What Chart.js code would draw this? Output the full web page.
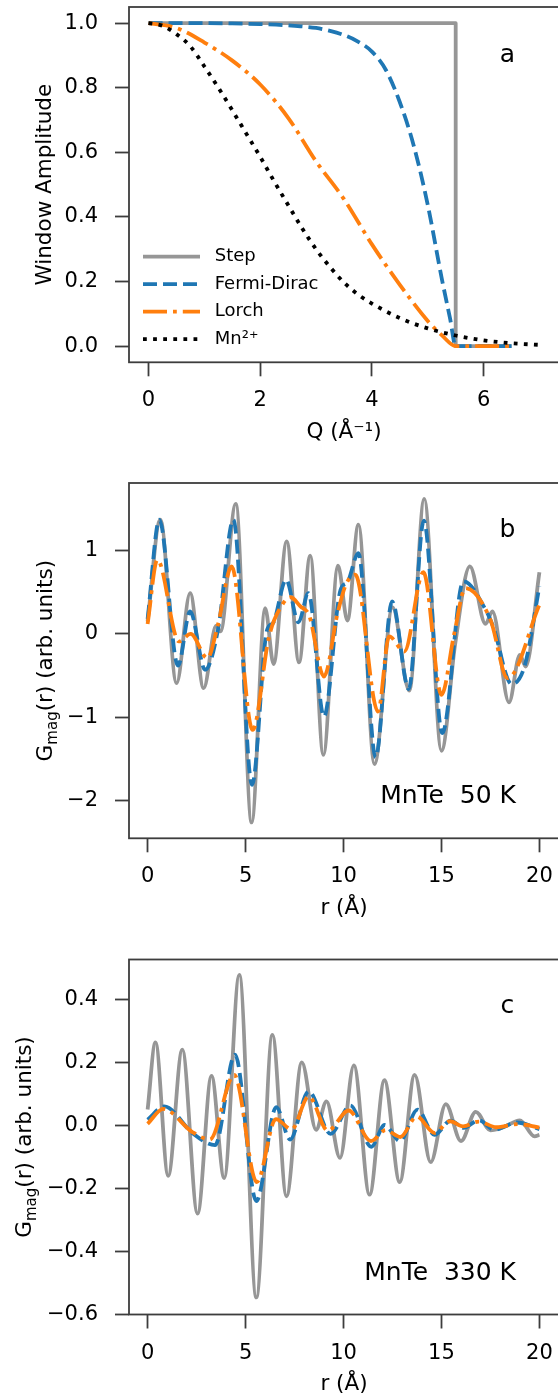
<!DOCTYPE html>
<html>
<head>
<meta charset="utf-8">
<script src="https://cdn.jsdelivr.net/npm/chart.js@4.4.1/dist/chart.umd.min.js"></script>
<style>
  html, body { margin: 0; padding: 0; background: #fff; }
  body { width: 558px; height: 1397px; overflow: hidden; position: relative; }
  canvas { position: absolute; left: 0; }
</style>
</head>
<body>
<canvas id="panelA" width="562" height="460" style="top:0px"></canvas>
<canvas id="panelB" width="562" height="475" style="top:455px"></canvas>
<canvas id="panelC" width="562" height="490" style="top:910px"></canvas>
<script>
// panel a : window functions
var stepQ = [0, 5.5, 5.5, 6.5];
var stepW = [1, 1, 0, 0];
var fermiQ = [0, 0.5, 1, 1.5, 2, 2.5, 3, 3.25, 3.5, 3.75, 4, 4.25, 4.5, 4.75, 5, 5.25, 5.4, 5.5, 6.5];
var fermiW = [1, 1, 1, 0.999, 0.997, 0.993, 0.985, 0.976, 0.963, 0.943, 0.912, 0.855, 0.755, 0.62, 0.437, 0.21, 0.085, 0, 0];
var lorchQ = [0, 0.5, 1, 1.5, 2, 2.5, 3, 3.5, 4, 4.5, 5, 5.25, 5.5, 6.5];
var lorchW = [1, 0.985, 0.94, 0.884, 0.81, 0.707, 0.572, 0.455, 0.315, 0.19, 0.078, 0.034, 0, 0];
var mnQ = [0, 0.25, 0.5, 0.75, 1, 1.25, 1.5, 1.75, 2, 2.25, 2.5, 2.75, 3, 3.25, 3.5, 3.75, 4, 4.5, 5, 5.5, 6, 6.5, 7];
var mnW = [1, 0.992, 0.966, 0.928, 0.866, 0.8, 0.73, 0.658, 0.586, 0.51, 0.437, 0.365, 0.3, 0.245, 0.197, 0.16, 0.132, 0.087, 0.055, 0.033, 0.018, 0.009, 0.004];

// panel b : MnTe 50 K
var bStepR = [0, 0.65, 1.48, 2.17, 2.86, 3.5, 3.72, 4.5, 5.31, 6.0, 6.43, 7.1, 7.73, 8.3, 8.97, 9.72, 10.2, 10.76, 11.58, 12.5, 13.36, 14.12, 15.0, 15.7, 16.45, 17.25, 17.6, 18.45, 19.0, 19.3, 20.0];
var bStepG = [0.15, 1.37, -0.59, 0.49, -0.65, 0.10, 0.03, 1.56, -2.26, 0.31, -0.36, 1.11, -0.34, 0.94, -1.45, 0.82, 0.16, 1.31, -1.56, 0.32, -0.68, 1.62, -1.40, -0.12, 0.81, 0.12, 0.27, -0.82, -0.25, -0.39, 0.74];
var bFermiR = [0, 0.6, 1.55, 2.17, 2.94, 3.6, 4.38, 5.33, 6.1, 6.4, 7.07, 7.7, 8.21, 9.0, 9.85, 10.2, 10.76, 11.64, 12.48, 13.33, 14.1, 15.04, 16.12, 17.3, 17.65, 18.58, 19.25, 20.0];
var bFermiG = [0.18, 1.37, -0.38, 0.27, -0.43, 0.06, 1.37, -1.81, 0.05, 0.13, 0.65, 0.14, 0.49, -0.99, 0.53, 0.62, 0.97, -1.48, 0.39, -0.66, 1.36, -1.19, 0.63, 0.27, 0.08, -0.6, -0.38, 0.57];
var bLorchR = [0, 0.5, 1.6, 2.2, 3.05, 3.6, 4.29, 5.36, 6.2, 6.9, 7.3, 7.8, 8.25, 9.0, 9.7, 10.1, 10.6, 11.76, 12.33, 13.1, 14.08, 15.0, 15.65, 16.22, 17.5, 18.38, 20.0];
var bLorchG = [0.12, 0.89, -0.09, 0.0, -0.29, 0.12, 0.81, -1.15, -0.03, 0.36, 0.44, 0.33, 0.22, -0.51, 0.25, 0.58, 0.71, -0.93, -0.03, -0.21, 0.74, -0.73, 0.0, 0.55, 0.17, -0.53, 0.35];

// panel c : MnTe 330 K
var cStepR = [0, 0.4, 1.05, 1.77, 2.55, 3.26, 3.91, 4.68, 5.55, 6.37, 7.09, 7.87, 8.6, 9.13, 9.82, 10.53, 11.33, 12.09, 12.87, 13.63, 14.45, 15.22, 16.0, 16.75, 17.5, 18.2, 19.0, 19.75, 20.0];
var cStepG = [0.05, 0.263, -0.16, 0.24, -0.28, 0.157, -0.167, 0.477, -0.546, 0.287, -0.225, 0.2, -0.014, 0.076, -0.103, 0.19, -0.22, 0.143, -0.18, 0.16, -0.117, 0.067, -0.05, 0.043, -0.016, -0.005, 0.016, -0.035, -0.03];
var cFermiR = [0, 0.85, 2.3, 3.44, 4.46, 5.55, 6.57, 7.27, 8.22, 9.34, 10.35, 11.42, 12.1, 12.88, 13.78, 14.64, 15.47, 16.14, 16.9, 17.7, 18.85, 20.0];
var cFermiG = [0.018, 0.06, -0.025, -0.063, 0.224, -0.24, 0.058, -0.045, 0.108, -0.027, 0.063, -0.068, 0.001, -0.05, 0.05, -0.03, 0.015, -0.008, 0.016, -0.014, 0.009, -0.012];
var cLorchR = [0, 0.8, 2.3, 3.18, 4.42, 5.57, 6.55, 7.35, 8.22, 9.2, 10.26, 11.4, 12.15, 12.9, 13.74, 14.64, 15.45, 16.1, 16.9, 17.8, 18.9, 20.0];
var cLorchG = [0.005, 0.052, -0.022, -0.045, 0.16, -0.18, 0.02, -0.013, 0.092, -0.017, 0.047, -0.05, -0.015, -0.037, 0.028, -0.024, 0.013, -0.003, 0.012, -0.006, 0.004, -0.007];

// ticks
var aXTicks = [0, 2, 4, 6];
var aYTicks = [0, 0.2, 0.4, 0.6, 0.8, 1.0];
var rTicks = [0, 5, 10, 15, 20];
var bYTicks = [-2, -1, 0, 1];
var cYTicks = [-0.6, -0.4, -0.2, 0, 0.2, 0.4];

var FONT = '"DejaVu Sans", sans-serif';
var SPINE = '#3d3d3d';
var LW = 3.8;

function minus(s) { return s.replace('-', '\u2212'); }
function fixed1(v) { return minus(v.toFixed(1)); }
function whole(v) { return minus(String(v)); }

function series(label, xs, ys, style) {
    var d = {
        label: label,
        data: xs.map(function (x, i) { return {x: x, y: ys[i]}; }),
        pointRadius: 0,
        borderWidth: LW,
        borderJoinStyle: 'round',
        fill: false,
        cubicInterpolationMode: 'monotone'
    };
    return Object.assign(d, style);
}
var stepStyle = {borderColor: '#969696', order: 4};
var fermiStyle = {borderColor: '#1f77b4', borderDash: [14, 6], order: 3};
var lorchStyle = {borderColor: '#ff7f0e', borderDash: [24, 6, 3.8, 6], order: 2};
var mnStyle = {borderColor: '#000000', borderDash: [3.8, 6.3], order: 1};

function gridOpts() {
    return {drawOnChartArea: false, drawTicks: true, tickLength: 14, tickWidth: 1.8, tickColor: SPINE};
}

function axisX(min, max, ticks, fmt, title) {
    return {
        type: 'linear', min: min, max: max,
        afterBuildTicks: function (s) { s.ticks = ticks.map(function (v) { return {value: v}; }); },
        afterFit: function (s) { s.height = 84; s.paddingLeft = 0; s.paddingRight = 0; },
        grid: gridOpts(),
        border: {display: false},
        ticks: {padding: 12, color: '#000', font: {family: FONT, size: 21}, maxRotation: 0, autoSkip: false, callback: fmt},
        title: {display: true, text: title, color: '#000', font: {family: FONT, size: 21.5}, padding: {top: 0, bottom: 1}}
    };
}

function axisY(min, max, ticks, fmt, title) {
    return {
        type: 'linear', min: min, max: max,
        afterBuildTicks: function (s) { s.ticks = ticks.map(function (v) { return {value: v}; }); },
        afterFit: function (s) { s.width = 129; s.paddingTop = 0; s.paddingBottom = 0; },
        grid: gridOpts(),
        border: {display: false},
        ticks: {padding: 17, color: '#000', font: {family: FONT, size: 21}, autoSkip: false, callback: fmt},
        title: title ? {display: true, text: title, color: '#000', font: {family: FONT, size: 21.5}, padding: {top: 33, bottom: 0}} : {display: false}
    };
}

// box round the plot area, drawn over the curves like matplotlib spines
var framePlugin = {
    id: 'frame',
    afterDatasetsDraw: function (chart) {
        var ctx = chart.ctx, a = chart.chartArea;
        ctx.save();
        ctx.strokeStyle = SPINE;
        ctx.lineWidth = 1.8;
        ctx.strokeRect(a.left, a.top, a.right - a.left, a.bottom - a.top);
        ctx.restore();
    }
};

// panel letters and sample labels, placed in axes fractions
function textPlugin(items) {
    return {
        id: 'panelText',
        afterDraw: function (chart) {
            var ctx = chart.ctx, a = chart.chartArea;
            ctx.save();
            ctx.fillStyle = '#000';
            ctx.textBaseline = 'alphabetic';
            items.forEach(function (t) {
                ctx.font = '25px ' + FONT;
                ctx.textAlign = t.align;
                ctx.fillText(t.text, a.left + t.fx * (a.right - a.left), a.bottom - t.fy * (a.bottom - a.top));
            });
            ctx.restore();
        }
    };
}

// y title with a real subscript: G_mag(r) (arb. units)
function gmagTitle(cx) {
    return {
        id: 'gmagTitle',
        afterDraw: function (chart) {
            var ctx = chart.ctx, a = chart.chartArea;
            var fs = 21.5;
            var big = fs + 'px ' + FONT, small = (fs * 0.7) + 'px ' + FONT;
            ctx.save();
            ctx.translate(cx, (a.top + a.bottom) / 2);
            ctx.rotate(-Math.PI / 2);
            ctx.fillStyle = '#000';
            ctx.textBaseline = 'alphabetic';
            ctx.textAlign = 'left';
            ctx.font = big;
            var w1 = ctx.measureText('G').width;
            var w3 = ctx.measureText('(r) (arb. units)').width;
            ctx.font = small;
            var w2 = ctx.measureText('mag').width;
            var x = -(w1 + w2 + w3) / 2;
            var base = 0.36 * fs;
            ctx.font = big; ctx.fillText('G', x, base); x += w1;
            ctx.font = small; ctx.fillText('mag', x, base + 0.24 * fs); x += w2;
            ctx.font = big; ctx.fillText('(r) (arb. units)', x, base);
            ctx.restore();
        }
    };
}

// move the legend to the lower left corner of the plot
var legendShift = {
    id: 'legendShift',
    afterLayout: function (chart) {
        var lg = chart.legend;
        lg.left += 4.5; lg.right += 4.5;
        lg.top += 2.4; lg.bottom += 2.4;
    }
};

function baseOptions(pad, scales, legend) {
    return {
        responsive: false,
        animation: false,
        events: [],
        layout: {padding: pad},
        plugins: {legend: legend || {display: false}, tooltip: {enabled: false}},
        scales: scales
    };
}

var chartA = new Chart(document.getElementById('panelA'), {
    type: 'line',
    data: {datasets: [
        series('Step', stepQ, stepW, Object.assign({cubicInterpolationMode: 'default', tension: 0}, stepStyle)),
        series('Fermi-Dirac', fermiQ, fermiW, fermiStyle),
        series('Lorch', lorchQ, lorchW, lorchStyle),
        series('Mn\u00B2\u207A', mnQ, mnW, mnStyle)
    ]},
    options: baseOptions({left: 0, right: 3, top: 7, bottom: 13.7}, {
        x: axisX(-0.35, 7.35, aXTicks, whole, 'Q (\u00C5\u207B\u00B9)'),
        y: axisY(-0.05, 1.05, aYTicks, fixed1, 'Window Amplitude')
    }, {
        display: true,
        position: 'chartArea',
        align: 'end',
        labels: {
            usePointStyle: true,
            pointStyle: 'line',
            pointStyleWidth: 57,
            padding: 9.5,
            color: '#000',
            font: {family: FONT, size: 18},
            sort: function (p, q) { return p.datasetIndex - q.datasetIndex; },
            generateLabels: function (chart) {
                var items = Chart.defaults.plugins.legend.labels.generateLabels(chart);
                items.forEach(function (it) {
                    var ds = chart.data.datasets[it.datasetIndex];
                    it.strokeStyle = ds.borderColor;
                    it.lineWidth = ds.borderWidth;
                    it.lineDash = ds.borderDash || [];
                    it.lineCap = 'butt';
                    it.text = ' ' + it.text;
                });
                return items;
            }
        }
    }),
    plugins: [framePlugin, legendShift, textPlugin([{text: 'a', fx: 0.88, fy: 0.845, align: 'center'}])]
});

var chartB = new Chart(document.getElementById('panelB'), {
    type: 'line',
    data: {datasets: [
        series('Step', bStepR, bStepG, stepStyle),
        series('Fermi-Dirac', bFermiR, bFermiG, fermiStyle),
        series('Lorch', bLorchR, bLorchG, lorchStyle)
    ]},
    options: baseOptions({left: 0, right: 3, top: 28, bottom: 7.7}, {
        x: axisX(-0.95, 21.0, rTicks, whole, 'r (\u00C5)'),
        y: axisY(-2.45, 1.81, bYTicks, whole, null)
    }),
    plugins: [framePlugin, gmagTitle(44), textPlugin([
        {text: 'b', fx: 0.88, fy: 0.849, align: 'center'},
        {text: 'MnTe  50 K', fx: 0.9, fy: 0.098, align: 'right'}
    ])]
});

var chartC = new Chart(document.getElementById('panelC'), {
    type: 'line',
    data: {datasets: [
        series('Step', cStepR, cStepG, stepStyle),
        series('Fermi-Dirac', cFermiR, cFermiG, fermiStyle),
        series('Lorch', cLorchR, cLorchG, lorchStyle)
    ]},
    options: baseOptions({left: 0, right: 3, top: 49.5, bottom: 1.5}, {
        x: axisX(-0.95, 21.0, rTicks, whole, 'r (\u00C5)'),
        y: axisY(-0.6, 0.526, cYTicks, fixed1, null)
    }),
    plugins: [framePlugin, gmagTitle(23), textPlugin([
        {text: 'c', fx: 0.88, fy: 0.848, align: 'center'},
        {text: 'MnTe  330 K', fx: 0.9, fy: 0.097, align: 'right'}
    ])]
});
</script>
</body>
</html>
